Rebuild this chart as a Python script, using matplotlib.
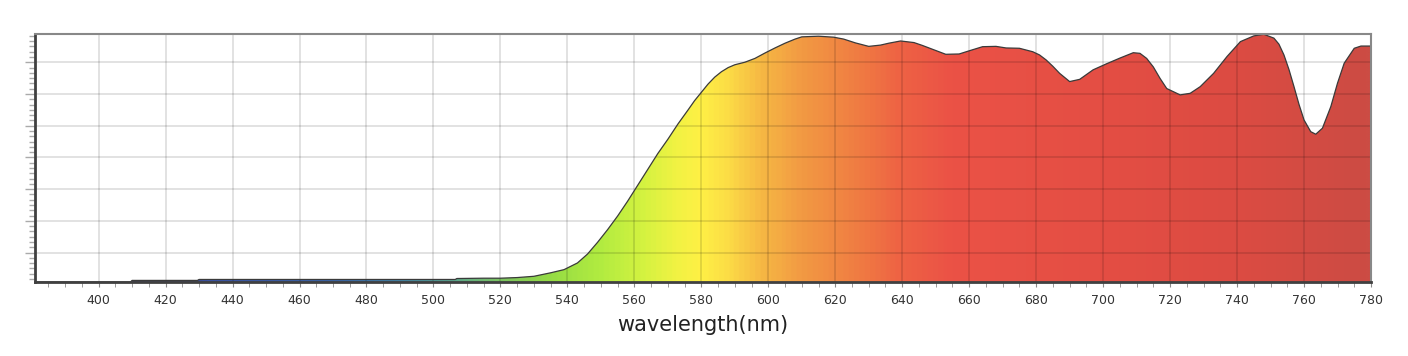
import numpy as np
import matplotlib.pyplot as plt
from matplotlib.colors import LinearSegmentedColormap
from matplotlib.patches import Polygon
from matplotlib.ticker import MultipleLocator

# spectrum (y in units of one grid division)
wavelength = [381, 409.5, 410, 429.5, 430, 506.5, 507, 515, 520, 525, 530, 535, 539,
              543, 546, 549, 552, 555, 558, 561, 564, 567, 570, 573, 576, 578, 580,
              582, 584, 586, 588, 590, 593, 596, 599, 602, 605, 608, 610, 615, 619.5,
              622.5, 626, 630, 633.5, 636, 639.5, 643.5, 646, 649, 653, 657, 660, 664,
              668, 671, 675, 679, 681, 683, 685, 687, 690, 693, 697, 701, 705, 709, 711,
              713, 715, 717, 719, 723, 726, 729, 733, 737, 741, 745, 748, 751, 752.5,
              754, 755.5, 757, 758.5, 760, 762, 763.5, 765.5, 768, 770, 772, 775, 777, 780]
intensity = [0, 0, 0.05, 0.05, 0.08, 0.08, 0.11, 0.12, 0.12, 0.14, 0.18, 0.29, 0.39,
             0.6, 0.88, 1.25, 1.65, 2.08, 2.55, 3.05, 3.55, 4.05, 4.5, 4.98, 5.42, 5.72, 5.98,
             6.24, 6.46, 6.63, 6.76, 6.85, 6.93, 7.05, 7.22, 7.38, 7.53, 7.66, 7.73, 7.75, 7.72,
             7.66, 7.54, 7.43, 7.47, 7.53, 7.6, 7.55, 7.46, 7.34, 7.18, 7.19, 7.29, 7.42,
             7.43, 7.38, 7.37, 7.26, 7.16, 7.0, 6.8, 6.58, 6.32, 6.39, 6.69, 6.88, 7.06, 7.23, 7.21,
             7.05, 6.78, 6.42, 6.1, 5.9, 5.95, 6.16, 6.58, 7.11, 7.58, 7.76, 7.81, 7.69, 7.5,
             7.16, 6.7, 6.16, 5.6, 5.11, 4.74, 4.66, 4.85, 5.53, 6.27, 6.9, 7.37, 7.44, 7.44]

# colour of the fill along the wavelength axis
color_nm = [381, 410, 428, 432, 470, 490, 505, 520, 535, 550, 562, 572, 580, 588,
            598, 610, 625, 640, 655, 700, 740, 780]
color_hex = ['#3a3a78', '#3c3f80', '#3d4a95', '#3a55aa', '#3a66aa', '#4485a6', '#5aa58e',
             '#7cc460', '#96dc44', '#b2ec40', '#d2f240', '#f0f343', '#fff045', '#fcdc46',
             '#f6b844', '#f29a43', '#f08042', '#ee6244', '#eb5246', '#e44e44', '#dc4b42',
             '#cc4c44']

xmin, xmax = 381, 780
ytop = 7.82

fig = plt.figure(figsize=(14.08, 3.56), dpi=100)
ax = fig.add_axes([35 / 1408, 74 / 356, 1336 / 1408, 248 / 356])

stops = [((w - xmin) / (xmax - xmin), c) for w, c in zip(color_nm, color_hex)]
cmap = LinearSegmentedColormap.from_list('spec', stops)

grad = np.linspace(0, 1, 1000)[None, :]
img = ax.imshow(grad, extent=[xmin, xmax, 0, ytop], aspect='auto', cmap=cmap,
                origin='lower', zorder=1, interpolation='bilinear')
verts = list(zip(wavelength, intensity)) + [(xmax, 0), (xmin, 0)]
shape = Polygon(verts, closed=True, facecolor='none', edgecolor='none')
ax.add_patch(shape)
img.set_clip_path(shape)

ax.plot(wavelength, intensity, color='#3a3a3a', lw=0.9, zorder=3)

ax.set_xlim(xmin, xmax)
ax.set_ylim(0, ytop)

ax.xaxis.set_major_locator(MultipleLocator(20))
ax.xaxis.set_minor_locator(MultipleLocator(5))
ax.yaxis.set_major_locator(MultipleLocator(1, offset=0.927))
ax.yaxis.set_minor_locator(MultipleLocator(1 / 6, offset=0.927))
ax.set_yticklabels([])

ax.set_axisbelow(False)
ax.grid(True, which='major', color='#000000', alpha=0.15, lw=1.1)

ax.tick_params(axis='x', which='both', direction='out', length=3.5, color='#8a8a8a',
               labelsize=9, labelcolor='#333333', pad=5)
ax.tick_params(axis='y', which='major', direction='out', length=7.5, color='#aaaaaa', width=1)
ax.tick_params(axis='y', which='minor', direction='out', length=4.5, color='#aaaaaa', width=1)

for side in ['left', 'bottom']:
    ax.spines[side].set_color('#404040')
    ax.spines[side].set_linewidth(2)
for side in ['top', 'right']:
    ax.spines[side].set_color('#888888')
    ax.spines[side].set_linewidth(1.5)
for sp in ax.spines.values():
    sp.set_zorder(4)

ax.set_xlabel('wavelength(nm)', fontsize=15, color='#222222', labelpad=6)

fig.savefig('out.png', dpi=100)
